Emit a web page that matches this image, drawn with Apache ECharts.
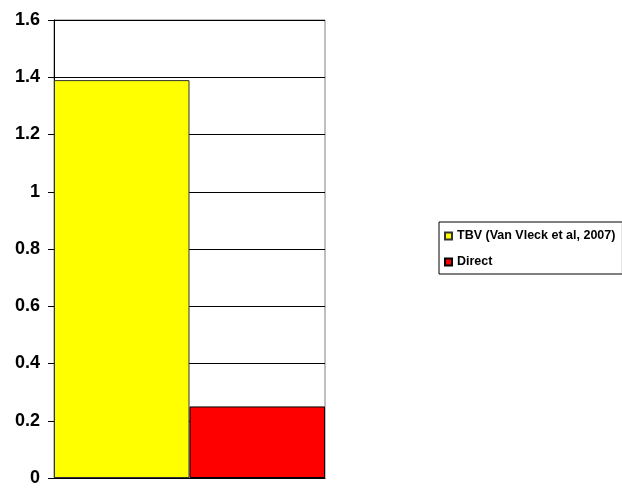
<!DOCTYPE html>
<html>
<head>
<meta charset="utf-8">
<script src="https://cdn.jsdelivr.net/npm/echarts@6/dist/echarts.min.js"></script>
<style>
  html, body { margin: 0; padding: 0; background: #fff; }
  #chart { width: 622px; height: 491px; }
</style>
</head>
<body>
<div id="chart"></div>
<script>
// Single comparison group with two series side by side
const categories = [''];
const seriesNames = ['TBV (Van Vleck et al, 2007)', 'Direct'];
const tbvValues = [1.39];
const directValues = [0.25];
const seriesColors = ['#ffff00', '#ff0000'];

const FONT = '"Liberation Sans", Arial, sans-serif';

const chart = echarts.init(document.getElementById('chart'), null, { renderer: 'canvas' });

chart.setOption({
  animation: false,
  backgroundColor: '#ffffff',
  grid: {
    left: 54, right: 297, top: 20, bottom: 13,
    show: true, borderColor: '#808080', borderWidth: 1, backgroundColor: 'transparent'
  },
  legend: {
    orient: 'vertical',
    left: 439, top: 222,
    padding: [6, 7, 4, 5],
    itemGap: 10,
    itemWidth: 7, itemHeight: 7,
    icon: 'rect',
    borderColor: '#000', borderWidth: 1,
    textStyle: { fontFamily: FONT, fontWeight: 'bold', fontSize: 12.5, lineHeight: 16, color: '#000' },
    data: seriesNames
  },
  xAxis: {
    type: 'category',
    data: categories,
    axisLine: { show: true, lineStyle: { color: '#000', width: 1 } },
    axisTick: { show: false },
    axisLabel: { show: false },
    splitLine: { show: false }
  },
  yAxis: {
    type: 'value',
    min: 0, max: 1.6, interval: 0.2,
    axisLine: { show: true, lineStyle: { color: '#000', width: 1 } },
    axisTick: { show: true, length: 6, lineStyle: { color: '#000' } },
    axisLabel: {
      margin: 14,
      padding: [4, 0, 0, 0],
      fontFamily: FONT, fontWeight: 'bold', fontSize: 18, color: '#000',
      formatter: v => String(Math.round(v * 10) / 10)
    },
    splitLine: { show: true, lineStyle: { color: '#000', width: 1 } }
  },
  series: [
    {
      name: seriesNames[0], type: 'bar', data: tbvValues,
      barGap: '0%', barCategoryGap: '0%',
      itemStyle: { color: seriesColors[0], borderColor: '#333', borderWidth: 1 }
    },
    {
      name: seriesNames[1], type: 'bar', data: directValues,
      barGap: '0%', barCategoryGap: '0%',
      itemStyle: { color: seriesColors[1], borderColor: '#000', borderWidth: 1 }
    }
  ]
});
</script>
</body>
</html>
